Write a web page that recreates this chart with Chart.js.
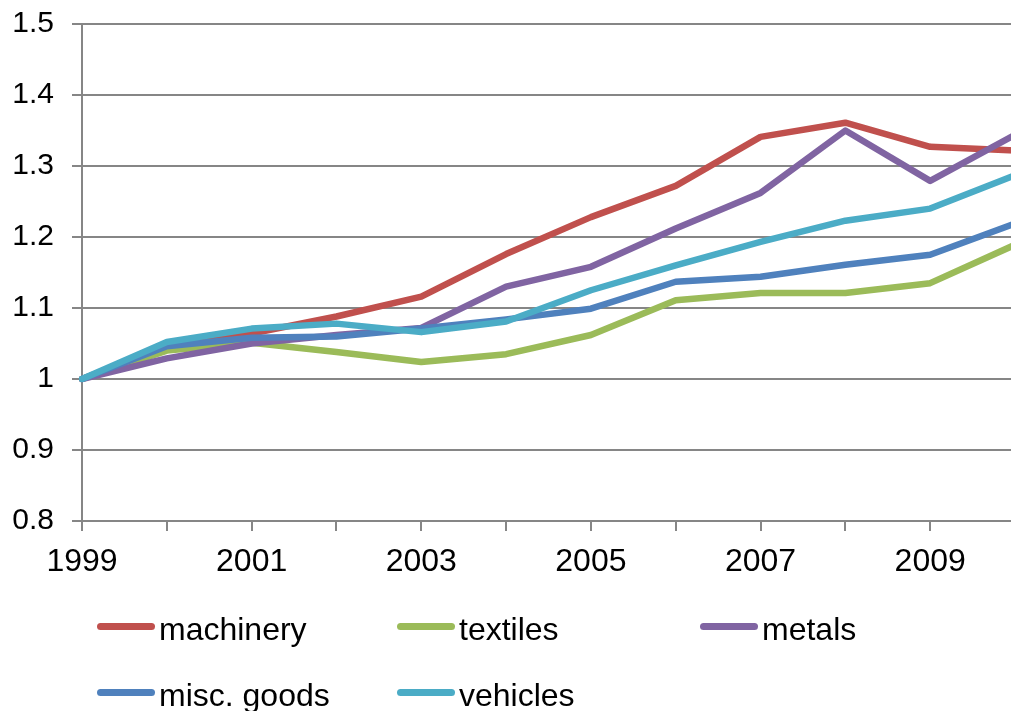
<!DOCTYPE html>
<html>
<head>
<meta charset="utf-8">
<script src="https://cdn.jsdelivr.net/npm/chart.js@4/dist/chart.umd.min.js"></script>
<style>
  html, body { margin: 0; padding: 0; background: #fff; overflow: hidden; }
  #wrap { position: relative; width: 1011px; height: 711px; overflow: hidden; }
  #chart { position: absolute; left: 0; top: 0; }
  .legend-item { position: absolute; font-family: "Liberation Sans", Arial, sans-serif; font-size: 32px; color: #000; white-space: nowrap; line-height: 1; }
  .legend-swatch { position: absolute; width: 58px; height: 7px; border-radius: 4px; }
</style>
</head>
<body>
<div id="wrap">
  <canvas id="chart" width="1015" height="711"></canvas>
</div>
<script>
// Index values by year (1999 = 1)
const years = ['1999','2000','2001','2002','2003','2004','2005','2006','2007','2008','2009','2010'];
const machinery = [1.000, 1.045, 1.064, 1.088, 1.116, 1.176, 1.228, 1.272, 1.341, 1.361, 1.327, 1.322];
const textiles  = [1.000, 1.040, 1.051, 1.038, 1.024, 1.035, 1.062, 1.111, 1.121, 1.121, 1.135, 1.189];
const metals    = [1.000, 1.029, 1.050, 1.062, 1.072, 1.130, 1.158, 1.212, 1.262, 1.350, 1.279, 1.344];
const miscGoods = [1.000, 1.046, 1.058, 1.060, 1.071, 1.084, 1.099, 1.137, 1.144, 1.161, 1.175, 1.219];
const vehicles  = [1.000, 1.052, 1.071, 1.078, 1.066, 1.081, 1.125, 1.160, 1.193, 1.223, 1.240, 1.287];

const seriesNames  = ['machinery', 'textiles', 'metals', 'misc. goods', 'vehicles'];
const seriesValues = [machinery, textiles, metals, miscGoods, vehicles];
const seriesColors = ['#C0504D', '#9BBB59', '#8064A2', '#4F81BD', '#4BACC6'];

const FONT = '"Liberation Sans", Arial, sans-serif';
const GRID = '#868686';

const datasets = seriesNames.map((name, i) => ({
  label: name,
  data: seriesValues[i],
  borderColor: seriesColors[i],
  backgroundColor: seriesColors[i],
  borderWidth: 6.5,
  pointRadius: 0,
  pointHoverRadius: 0,
  tension: 0,
  fill: false,
  borderJoinStyle: 'round',
  borderCapStyle: 'round',
  order: seriesNames.length - 1 - i   // later series are painted on top
}));

new Chart(document.getElementById('chart'), {
  type: 'line',
  data: { labels: years, datasets },
  options: {
    responsive: false,
    animation: false,
    devicePixelRatio: 1,
    layout: { padding: { top: 24, bottom: 130, left: 0, right: 0 } },
    plugins: { legend: { display: false }, tooltip: { enabled: false } },
    scales: {
      x: {
        offset: false,
        afterFit: s => { s.height = 60; s.paddingLeft = 0; s.paddingRight = 0; },
        grid: { display: true, drawOnChartArea: false, drawTicks: true, tickLength: 10, color: GRID, lineWidth: 2 },
        border: { display: true, color: GRID, width: 2 },
        ticks: {
          autoSkip: false,
          maxRotation: 0,
          padding: 12,
          color: '#000',
          font: { family: FONT, size: 32 },
          callback: function (v, i) { return i % 2 === 0 ? years[i] : ''; }
        }
      },
      y: {
        min: 0.8,
        max: 1.5,
        afterFit: s => { s.width = 82; s.paddingTop = 0; s.paddingBottom = 0; },
        grid: { display: true, drawOnChartArea: true, drawTicks: true, tickLength: 10, color: GRID, lineWidth: 2 },
        border: { display: true, color: GRID, width: 2 },
        ticks: {
          stepSize: 0.1,
          padding: 18,
          color: '#000',
          font: { family: FONT, size: 30 },
          callback: v => (Math.round(v * 10) / 10).toString()
        }
      }
    }
  }
});

// Legend below the plot, laid out in three columns
const wrap = document.getElementById('wrap');
const legendCols = [97, 397, 700];
const legendRows = [626, 692];
seriesNames.forEach((name, i) => {
  const col = i % 3, row = Math.floor(i / 3);
  const sw = document.createElement('div');
  sw.className = 'legend-swatch';
  sw.style.background = seriesColors[i];
  sw.style.left = legendCols[col] + 'px';
  sw.style.top = (legendRows[row] - 3.5) + 'px';
  wrap.appendChild(sw);
  const lb = document.createElement('div');
  lb.className = 'legend-item';
  lb.textContent = name;
  lb.style.left = (legendCols[col] + 62) + 'px';
  lb.style.top = (legendRows[row] - 13) + 'px';
  wrap.appendChild(lb);
});
</script>
</body>
</html>
